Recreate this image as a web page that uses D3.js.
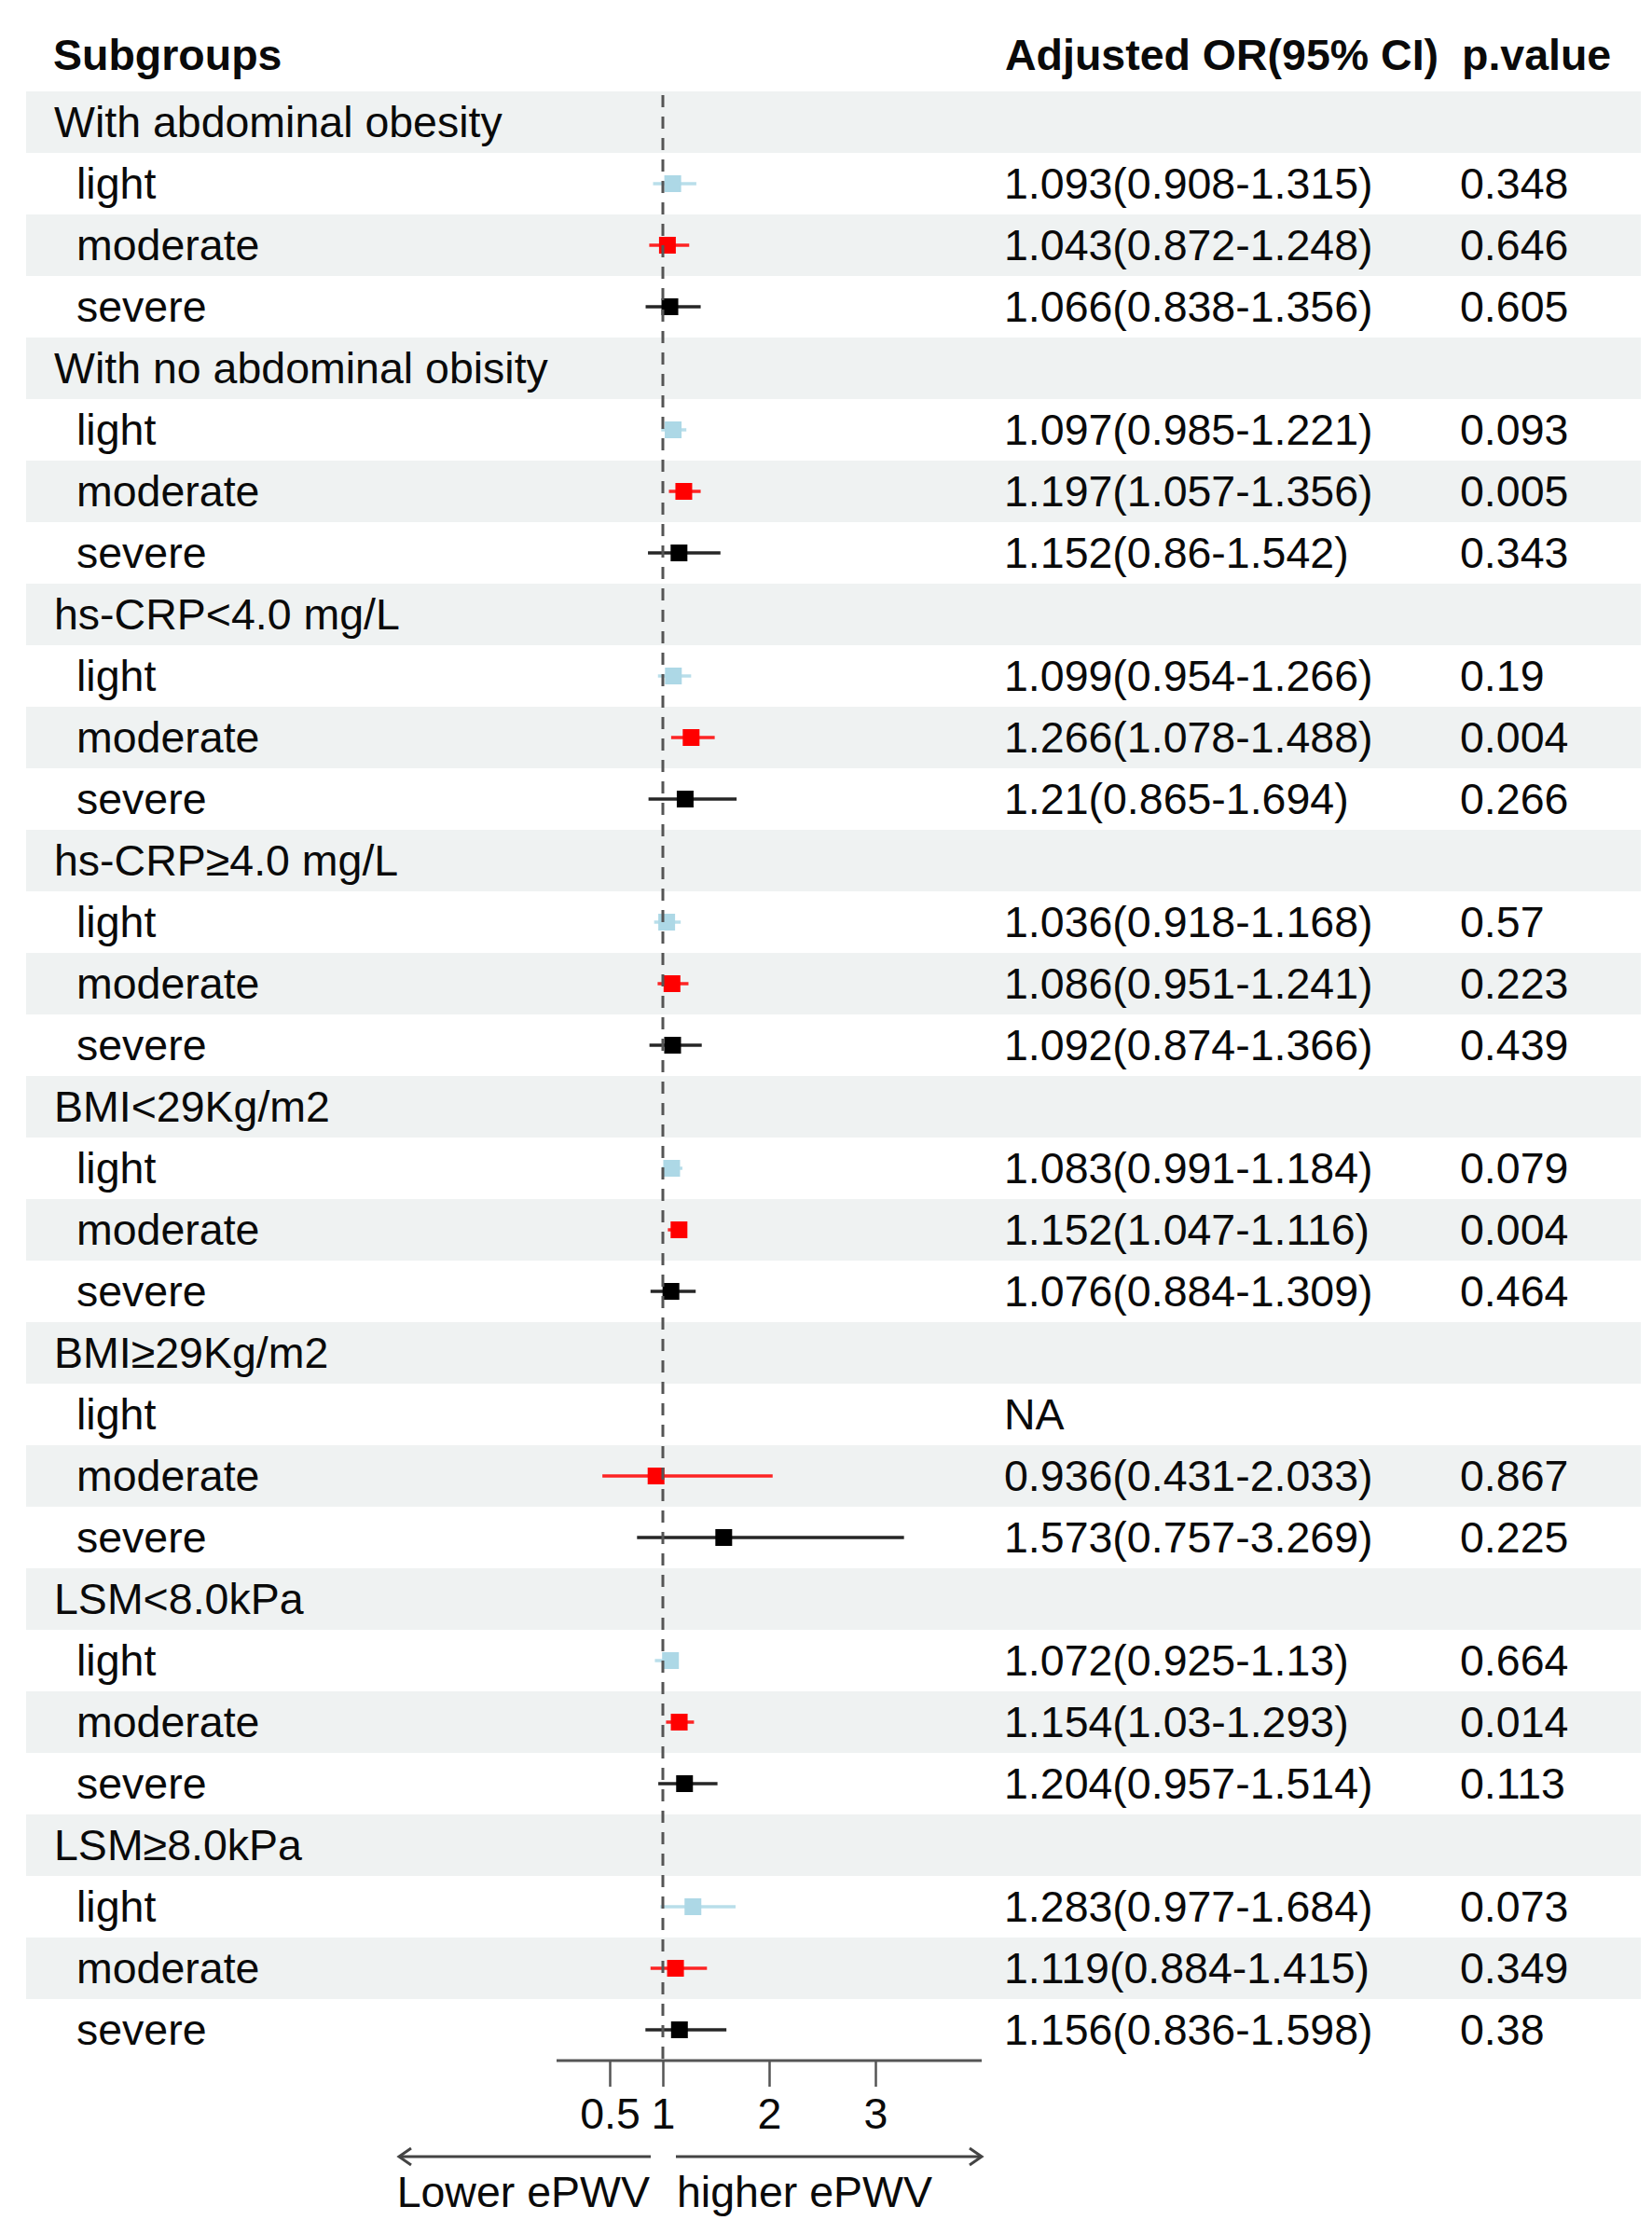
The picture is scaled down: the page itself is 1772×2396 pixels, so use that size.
<!DOCTYPE html>
<html>
<head>
<meta charset="utf-8">
<script src="https://cdn.jsdelivr.net/npm/d3@7"></script>
<style>
  html, body { margin: 0; padding: 0; background: #ffffff; }
  svg { display: block; }
  text { font-family: "Liberation Sans", Arial, Helvetica, sans-serif; fill: #0a0a0a; }
</style>
</head>
<body>
<svg id="chart" width="1772" height="2396"></svg>
<script>
// ---- data ----
const groups = ["With abdominal obesity", "With no abdominal obisity", "hs-CRP<4.0 mg/L", "hs-CRP\u22654.0 mg/L",
                "BMI<29Kg/m2", "BMI\u226529Kg/m2", "LSM<8.0kPa", "LSM\u22658.0kPa"];
const levels = ["light", "moderate", "severe"];
const levelColors = ["#add8e6", "#ff0000", "#000000"];
const orValues = [1.093, 1.043, 1.066, 1.097, 1.197, 1.152, 1.099, 1.266, 1.21, 1.036, 1.086, 1.092,
                  1.083, 1.152, 1.076, null, 0.936, 1.573, 1.072, 1.154, 1.204, 1.283, 1.119, 1.156];
const lowerCI = [0.908, 0.872, 0.838, 0.985, 1.057, 0.86, 0.954, 1.078, 0.865, 0.918, 0.951, 0.874,
                 0.991, 1.047, 0.884, null, 0.431, 0.757, 0.925, 1.03, 0.957, 0.977, 0.884, 0.836];
const upperCI = [1.315, 1.248, 1.356, 1.221, 1.356, 1.542, 1.266, 1.488, 1.694, 1.168, 1.241, 1.366,
                 1.184, 1.116, 1.309, null, 2.033, 3.269, 1.13, 1.293, 1.514, 1.684, 1.415, 1.598];
const pValues = [0.348, 0.646, 0.605, 0.093, 0.005, 0.343, 0.19, 0.004, 0.266, 0.57, 0.223, 0.439,
                 0.079, 0.004, 0.464, null, 0.867, 0.225, 0.664, 0.014, 0.113, 0.073, 0.349, 0.38];
const tickValues = [0.5, 1, 2, 3];
const headers = ["Subgroups", "Adjusted OR(95% CI)", "p.value"];
const arrowLabels = ["Lower ePWV", "higher ePWV"];

// ---- build rows ----
const rows = [];
groups.forEach((g, gi) => {
  rows.push({ type: "group", label: g });
  levels.forEach((lv, li) => {
    const k = gi * 3 + li;
    rows.push({ type: "item", label: lv, color: levelColors[li],
      or: orValues[k], lo: lowerCI[k], hi: upperCI[k], p: pValues[k] });
  });
});

const svg = d3.select("#chart");
const W = 1772, H = 2396;
svg.append("rect").attr("width", W).attr("height", H).attr("fill", "#fff");

const rowTop = 98, rowH = 66;
const y = d3.scaleBand().domain(d3.range(rows.length))
  .range([rowTop, rowTop + rowH * rows.length]).paddingInner(0).paddingOuter(0);
const x = d3.scaleLinear().domain([0, 4]).range([597, 1053]);

const fs = 46.5;
const colGroup = 58, colItem = 82, colOR = 1077, colP = 1566;

// bands
svg.append("g").selectAll("rect").data(rows).join("rect")
  .attr("x", 28).attr("width", 1760 - 28)
  .attr("y", (d, i) => y(i)).attr("height", y.bandwidth())
  .attr("fill", (d, i) => (i % 2 === 0 ? "#eff2f2" : "#ffffff"));

// headers
const hdr = svg.append("g").attr("font-weight", "bold").style("font-size", fs + "px");
hdr.append("text").attr("x", colGroup - 1).attr("y", 75).text(headers[0]);
hdr.append("text").attr("x", colOR + 1).attr("y", 75).text(headers[1]);
hdr.append("text").attr("x", colP + 2).attr("y", 75).text(headers[2]);

// row labels
const lab = svg.append("g").style("font-size", fs + "px");
rows.forEach((r, i) => {
  const by = y(i) + y.bandwidth() / 2 + 16;
  lab.append("text").attr("x", r.type === "group" ? colGroup : colItem).attr("y", by).text(r.label);
  if (r.type === "item") {
    lab.append("text").attr("x", colOR).attr("y", by)
      .text(r.or == null ? "NA" : `${r.or}(${r.lo}-${r.hi})`);
    if (r.p != null) lab.append("text").attr("x", colP).attr("y", by).text(`${r.p}`);
  }
});

// CI lines and points
const marks = svg.append("g");
const items = rows.map((r, i) => ({ ...r, i })).filter(r => r.type === "item" && r.or != null);
marks.selectAll("line.ci").data(items).join("line")
  .attr("class", "ci")
  .attr("x1", d => x(d.lo)).attr("x2", d => x(d.hi))
  .attr("y1", d => y(d.i) + y.bandwidth() / 2).attr("y2", d => y(d.i) + y.bandwidth() / 2)
  .attr("stroke", d => d.color).attr("stroke-width", 3.5).attr("stroke-opacity", 0.85);
const sq = 18;
marks.selectAll("rect.pt").data(items).join("rect")
  .attr("class", "pt")
  .attr("x", d => x(d.or) - sq / 2).attr("y", d => y(d.i) + y.bandwidth() / 2 - sq / 2)
  .attr("width", sq).attr("height", sq)
  .attr("fill", d => d.color);

// reference line
const axisY = rowTop + rowH * rows.length;
svg.append("line")
  .attr("x1", x(1)).attr("x2", x(1)).attr("y1", rowTop + 4).attr("y2", axisY)
  .attr("stroke", "#555").attr("stroke-width", 3).attr("stroke-dasharray", "13,10");

// x axis
const axisG = svg.append("g").attr("transform", `translate(0,${axisY})`)
  .call(d3.axisBottom(x).tickValues(tickValues).tickSize(28).tickPadding(10)
    .tickFormat(d => `${d}`));
axisG.select(".domain").attr("d", `M${x(0)},0H${x(4)}`).attr("stroke", "#555").attr("stroke-width", 3.2);
axisG.selectAll(".tick line").attr("stroke", "#555").attr("stroke-width", 2.5);
axisG.selectAll(".tick text").attr("y", 73).attr("dy", null)
  .style("font-size", fs + "px").style("font-family", "Liberation Sans, Arial, sans-serif").attr("fill", "#0a0a0a");

// arrows
const arrowY = 2313;
const ar = svg.append("g").attr("stroke", "#444").attr("stroke-width", 3).attr("fill", "none");
const leftStart = 428, leftEnd = 698, rightStart = 725, rightEnd = x(4);
ar.append("line").attr("x1", leftStart).attr("x2", leftEnd).attr("y1", arrowY).attr("y2", arrowY);
ar.append("path").attr("d", `M${leftStart + 13},${arrowY - 9}L${leftStart},${arrowY}L${leftStart + 13},${arrowY + 9}`);
ar.append("line").attr("x1", rightStart).attr("x2", rightEnd).attr("y1", arrowY).attr("y2", arrowY);
ar.append("path").attr("d", `M${rightEnd - 13},${arrowY - 9}L${rightEnd},${arrowY}L${rightEnd - 13},${arrowY + 9}`);

const al = svg.append("g").style("font-size", fs + "px");
al.append("text").attr("x", 697).attr("y", 2367).attr("text-anchor", "end").text(arrowLabels[0]);
al.append("text").attr("x", 726).attr("y", 2367).text(arrowLabels[1]);
</script>
</body>
</html>
